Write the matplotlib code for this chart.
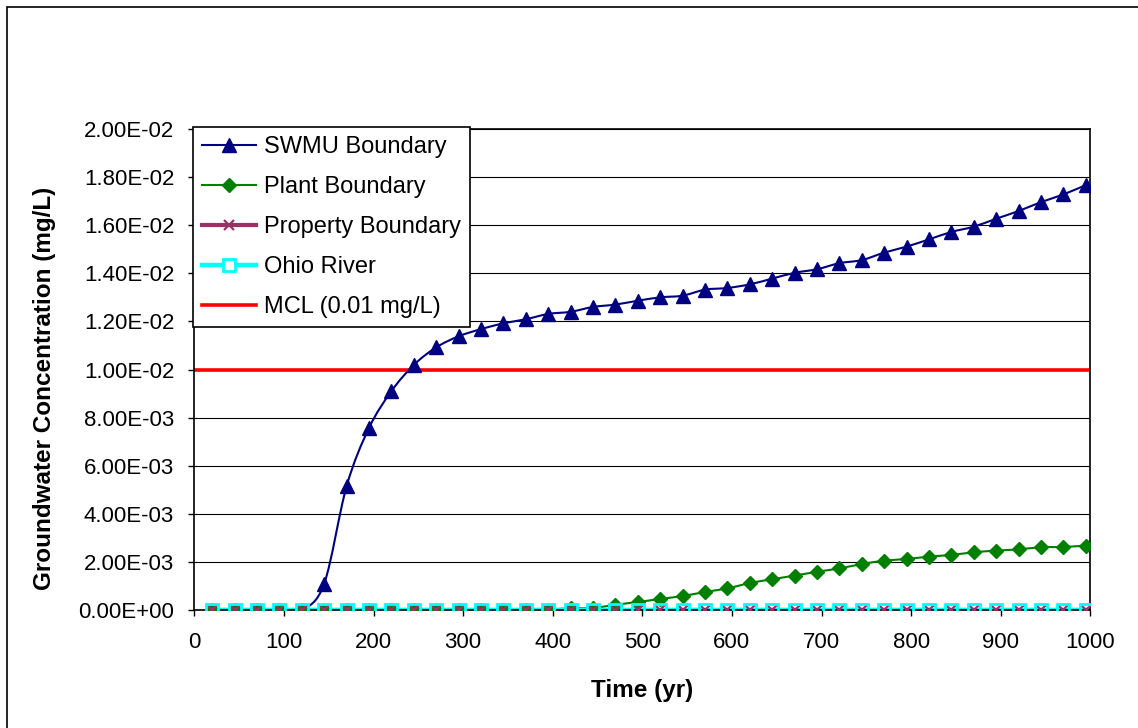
import numpy as np
import matplotlib
matplotlib.use("Agg")
import matplotlib.pyplot as plt
from matplotlib.path import Path
from matplotlib.patches import PathPatch, Rectangle
from matplotlib.lines import Line2D
from matplotlib.ticker import FuncFormatter, MultipleLocator

plt.rcParams["font.family"] = ["Liberation Sans", "DejaVu Sans"]

# sampling times (yr)
time = [20, 45, 70, 95, 120, 145, 170, 195, 220, 245,
        270, 295, 320, 345, 370, 395, 420, 445, 470, 495,
        520, 545, 570, 595, 620, 645, 670, 695, 720, 745,
        770, 795, 820, 845, 870, 895, 920, 945, 970, 995]

# concentrations (mg/L)
swmu = [0, 0, 0, 0, 0, 1.10e-3, 5.15e-3, 7.57e-3, 9.10e-3, 1.019e-2,
        1.092e-2, 1.138e-2, 1.168e-2, 1.192e-2, 1.209e-2, 1.231e-2, 1.240e-2, 1.260e-2, 1.270e-2, 1.286e-2,
        1.300e-2, 1.307e-2, 1.332e-2, 1.339e-2, 1.354e-2, 1.378e-2, 1.402e-2, 1.417e-2, 1.442e-2, 1.455e-2,
        1.486e-2, 1.511e-2, 1.541e-2, 1.572e-2, 1.594e-2, 1.627e-2, 1.659e-2, 1.696e-2, 1.728e-2, 1.767e-2]

plant = [0, 0, 0, 0, 0, 0, 0, 0, 0, 0,
         0, 0, 0, 0, 0, 0.02e-3, 0.07e-3, 0.08e-3, 0.22e-3, 0.33e-3,
         0.46e-3, 0.58e-3, 0.75e-3, 0.90e-3, 1.12e-3, 1.28e-3, 1.43e-3, 1.59e-3, 1.73e-3, 1.91e-3,
         2.05e-3, 2.12e-3, 2.22e-3, 2.29e-3, 2.40e-3, 2.47e-3, 2.52e-3, 2.61e-3, 2.62e-3, 2.68e-3]

prop = [0.0] * len(time)
ohio = [0.0] * len(time)

mcl_time = [0, 1000]
mcl = [0.01, 0.01]

labels = ["SWMU Boundary", "Plant Boundary", "Property Boundary",
          "Ohio River", "MCL (0.01 mg/L)"]


def smooth_path(x, y):
    # excel style smoothed line: cubic bezier through every point
    p = np.column_stack([x, y]).astype(float)
    n = len(p)
    verts = [p[0]]
    codes = [Path.MOVETO]
    for i in range(n - 1):
        p0 = p[i - 1] if i > 0 else p[i]
        p3 = p[i + 2] if i + 2 < n else p[i + 1]
        c1 = p[i] + (p[i + 1] - p0) / 6.0
        c2 = p[i + 1] - (p3 - p[i]) / 6.0
        verts += [c1, c2, p[i + 1]]
        codes += [Path.CURVE4] * 3
    return Path(verts, codes)


W, H = 1138, 728
fig = plt.figure(figsize=(W / 100, H / 100), dpi=100)
ax = fig.add_axes([194.3 / W, 1 - 610 / H, 896 / W, 481 / H])

navy = "#000080"
green = "#008000"
purple = "#993366"
cyan = "#00FFFF"
red = "#FF0000"

ax.add_patch(PathPatch(smooth_path(time, swmu), fill=False, ec=navy, lw=1.5, zorder=2))
ax.add_patch(PathPatch(smooth_path(time, plant), fill=False, ec=green, lw=1.5, zorder=2.1))
ax.plot(time, prop, color=purple, lw=3, zorder=2.2)
ax.plot(time, ohio, color=cyan, lw=3.2, zorder=2.3)
ax.plot(mcl_time, mcl, color=red, lw=2.6, solid_capstyle="butt", zorder=2.4)

ax.plot(time, swmu, ls="none", marker="^", ms=9.5, color=navy, zorder=3)
ax.plot(time, plant, ls="none", marker="D", ms=7, color=green, zorder=3.1)
ax.plot(time, prop, ls="none", marker="x", ms=6.5, mew=1.6, color=purple, zorder=3.2)
ax.plot(time, ohio, ls="none", marker="s", ms=8.5, mfc="none", mec=cyan, mew=2, zorder=3.3)

ax.set_xlim(0, 1000)
ax.set_ylim(0, 0.02)
ax.xaxis.set_major_locator(MultipleLocator(100))
ax.yaxis.set_major_locator(MultipleLocator(0.002))
ax.yaxis.set_major_formatter(FuncFormatter(lambda v, p: "%.2E" % v))
ax.grid(axis="y", color="black", lw=0.8)
ax.set_axisbelow(True)
ax.tick_params(axis="both", direction="out", length=4.5, width=1, labelsize=16, colors="black")
ax.tick_params(axis="y", pad=10)
ax.tick_params(axis="x", pad=11)
for s in ax.spines.values():
    s.set_linewidth(1.2)
    s.set_color("black")

fig.text(642.3 / W, 1 - 690 / H, "Time (yr)", ha="center", va="center",
         fontsize=17.5, fontweight="bold")
fig.text(45 / W, 1 - 388 / H, "Groundwater Concentration (mg/L)", ha="center",
         va="center", rotation=90, fontsize=17.5, fontweight="bold")

handles = [
    Line2D([], [], color=navy, lw=1.5, marker="^", ms=9.5),
    Line2D([], [], color=green, lw=1.5, marker="D", ms=7),
    Line2D([], [], color=purple, lw=3, marker="x", ms=6.5, mew=1.6),
    Line2D([], [], color=cyan, lw=3.2, marker="s", ms=8, mfc="white", mec=cyan, mew=2),
    Line2D([], [], color=red, lw=2.6),
]
leg = fig.legend(handles, labels, loc="upper left",
                 bbox_to_anchor=(192.7 / W, 1 - 126.7 / H), borderaxespad=0,
                 fontsize=17, frameon=True, fancybox=False, framealpha=1,
                 edgecolor="black", handlelength=2.3, handletextpad=0.3,
                 labelspacing=0.76, borderpad=0.4, numpoints=1)
leg.get_frame().set_linewidth(1.2)
leg.set_zorder(10)

# outer chart border
fig.patches.append(Rectangle((7 / W, -0.05), 1.2, 1.05 - 7 / H, fill=False,
                             ec="black", lw=1.2, transform=fig.transFigure))

fig.savefig("out.png", dpi=100)
